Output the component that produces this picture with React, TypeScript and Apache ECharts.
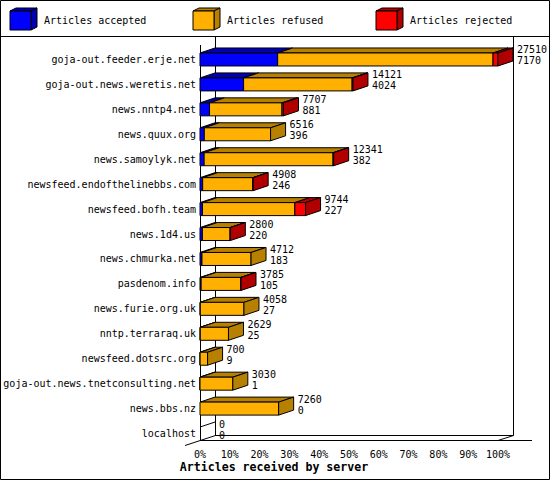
import React, { useEffect, useRef } from "react";
import * as echarts from "echarts";

// servers, top to bottom
const servers = [
  "goja-out.feeder.erje.net",
  "goja-out.news.weretis.net",
  "news.nntp4.net",
  "news.quux.org",
  "news.samoylyk.net",
  "newsfeed.endofthelinebbs.com",
  "newsfeed.bofh.team",
  "news.1d4.us",
  "news.chmurka.net",
  "pasdenom.info",
  "news.furie.org.uk",
  "nntp.terraraq.uk",
  "newsfeed.dotsrc.org",
  "goja-out.news.tnetconsulting.net",
  "news.bbs.nz",
  "localhost",
];
const accepted = [7170, 4024, 881, 396, 382, 246, 227, 220, 183, 105, 27, 25, 9, 1, 0, 0];
const refused = [19880, 10017, 6686, 6120, 11899, 4632, 8527, 2560, 4529, 3665, 4031, 2604, 691, 3029, 7260, 0];
const rejected = [460, 80, 140, 0, 60, 30, 990, 20, 0, 15, 0, 0, 0, 0, 0, 0];
const seriesNames = ["Articles accepted", "Articles refused", "Articles rejected"];
const pctTicks = ["0%", "10%", "20%", "30%", "40%", "50%", "60%", "70%", "80%", "90%", "100%"];

const FRONT = ["#0000ff", "#ffb000", "#ff0000"];
const DARK = ["#0000b0", "#b88000", "#b00000"];
const FONT = "'DejaVu Sans Mono', monospace";
const DX = 15;
const DY = 5;

const App: React.FC = () => {
  const chartRef = useRef<HTMLDivElement | null>(null);

  useEffect(() => {
    document.body.style.margin = "0";
    if (!chartRef.current) return;
    const chart = echarts.init(chartRef.current, undefined, { renderer: "svg" });

    const totals = servers.map((_, i) => accepted[i] + refused[i] + rejected[i]);
    const maxTotal = Math.max(...totals);
    const rows = servers.map((_, i) => [i, accepted[i], refused[i], rejected[i]]);

    const line = (x1: number, y1: number, x2: number, y2: number) => ({
      type: "line",
      silent: true,
      shape: { x1, y1, x2, y2 },
      style: { stroke: "#000", lineWidth: 1 },
    });

    // legend boxes drawn as little cubes
    const legendItems: any[] = [];
    [10, 193, 376].forEach((lx, k) => {
      legendItems.push(
        {
          type: "polygon",
          shape: { points: [[lx, 11], [lx + 21, 11], [lx + 27, 8], [lx + 6, 8]] },
          style: { fill: DARK[k], stroke: "#000", lineWidth: 1 },
        },
        {
          type: "polygon",
          shape: { points: [[lx + 21, 11], [lx + 27, 8], [lx + 27, 27], [lx + 21, 30]] },
          style: { fill: DARK[k], stroke: "#000", lineWidth: 1 },
        },
        {
          type: "rect",
          shape: { x: lx, y: 11, width: 21, height: 19 },
          style: { fill: FRONT[k], stroke: "#000", lineWidth: 1 },
        },
        {
          type: "text",
          x: lx + 34,
          y: 20,
          style: {
            text: seriesNames[k],
            font: `10px ${FONT}`,
            fill: "#000",
            verticalAlign: "middle",
          },
        }
      );
    });

    const option = {
      animation: false,
      backgroundColor: "#fff",
      grid: { left: 200, right: 52, top: 47, bottom: 34 },
      xAxis: {
        type: "value",
        min: 0,
        max: maxTotal,
        interval: maxTotal / 10,
        axisLine: { show: false },
        axisTick: { show: false },
        splitLine: { show: false },
        axisLabel: {
          margin: 3,
          fontFamily: FONT,
          fontSize: 10,
          color: "#000",
          formatter: (v: number) => pctTicks[Math.round((v / maxTotal) * 10)] ?? "",
        },
      },
      yAxis: {
        type: "category",
        inverse: true,
        data: servers,
        axisLine: { show: false },
        axisTick: { show: false },
        axisLabel: { margin: 4, fontFamily: FONT, fontSize: 10, color: "#000" },
      },
      graphic: [
        {
          type: "rect",
          shape: { x: 0.5, y: 0.5, width: 549, height: 479 },
          style: { fill: "none", stroke: "#000", lineWidth: 1 },
        },
        line(0, 36.5, 550, 36.5),
        // back wall and floor
        line(215.5, 36, 215.5, 435.5),
        line(513.5, 36, 513.5, 435.5),
        line(215, 435.5, 513.5, 435.5),
        line(498, 440.5, 513.5, 435.5),
        line(200.5, 45, 200.5, 440.5),
        line(200, 440.5, 532, 440.5),
        line(185, 445.5, 215.5, 435.5),
        ...legendItems,
        {
          type: "text",
          x: 274,
          y: 467,
          style: {
            text: "Articles received by server",
            font: `bold 11.6px ${FONT}`,
            fill: "#000",
            align: "center",
            verticalAlign: "middle",
          },
        },
      ],
      series: [
        {
          type: "custom",
          clip: false,
          data: rows,
          encode: { x: [1, 2, 3], y: 0 },
          renderItem: (_params: any, api: any) => {
            const i = api.value(0);
            const vals = [api.value(1), api.value(2), api.value(3)];
            const total = vals[0] + vals[1] + vals[2];
            const [x0, cy] = api.coord([0, i]);
            const top = cy - 6.5;
            const h = 13;
            const children: any[] = [];
            let start = 0;
            let end = x0;
            let lastK = -1;
            vals.forEach((v: number, k: number) => {
              if (v <= 0) return;
              const xa = api.coord([start, i])[0];
              const xb = api.coord([start + v, i])[0];
              children.push(
                {
                  type: "polygon",
                  shape: { points: [[xa, top], [xb, top], [xb + DX, top - DY], [xa + DX, top - DY]] },
                  style: { fill: DARK[k], stroke: "#000", lineWidth: 1 },
                },
                {
                  type: "rect",
                  shape: { x: xa, y: top, width: xb - xa, height: h },
                  style: { fill: FRONT[k], stroke: "#000", lineWidth: 1 },
                }
              );
              start += v;
              end = xb;
              lastK = k;
            });
            if (lastK >= 0) {
              children.push({
                type: "polygon",
                shape: {
                  points: [[end, top], [end + DX, top - DY], [end + DX, top - DY + h], [end, top + h]],
                },
                style: { fill: DARK[lastK], stroke: "#000", lineWidth: 1 },
              });
            } else {
              children.push({
                type: "line",
                shape: { x1: x0, y1: top, x2: x0 + DX, y2: top - DY },
                style: { stroke: "#000", lineWidth: 1 },
              });
            }
            children.push({
              type: "text",
              x: end + DX + 4,
              y: cy - 4,
              style: {
                text: `${total}\n${vals[0]}`,
                font: `10px ${FONT}`,
                lineHeight: 11,
                fill: "#000",
                verticalAlign: "middle",
              },
            });
            return { type: "group", children };
          },
        },
      ],
    };

    chart.setOption(option as any);
    return () => chart.dispose();
  }, []);

  return <div ref={chartRef} style={{ width: 550, height: 480 }} />;
};

export default App;
